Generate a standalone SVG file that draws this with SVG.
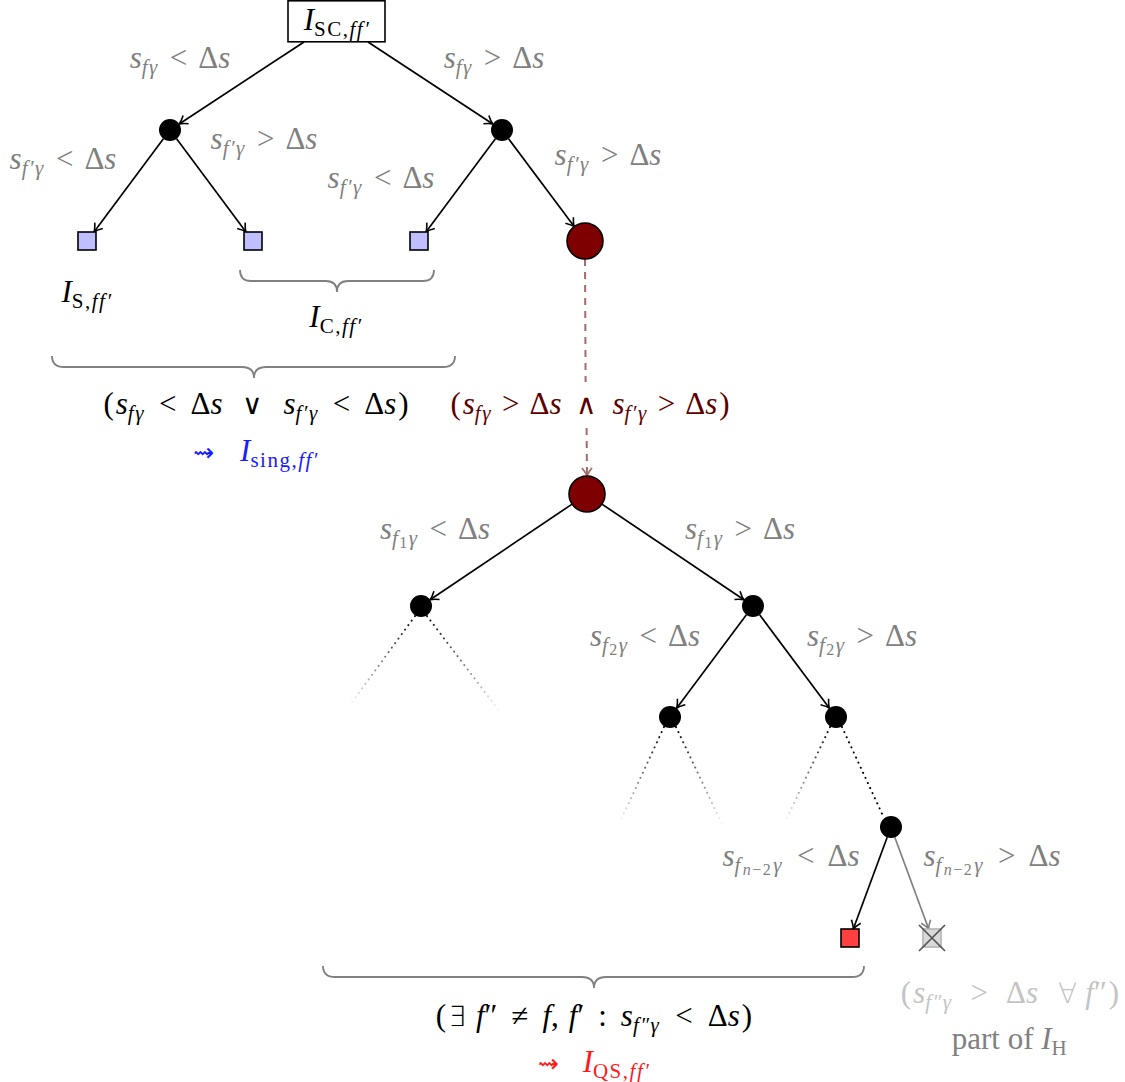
<svg xmlns="http://www.w3.org/2000/svg" width="1125" height="1082" viewBox="0 0 1125 1082">
<style>
.m{font-family:"Liberation Serif","DejaVu Serif",serif;font-size:31px;text-anchor:middle}
.i{font-style:italic}
.s{font-size:21px;letter-spacing:1.5px}
.ss{font-size:16px;letter-spacing:1.5px}
.sym{font-family:"DejaVu Sans",sans-serif;font-size:25px}
.op{font-family:"DejaVu Sans",sans-serif;font-size:28px;font-weight:200}
.g{fill:#808080}
.lg{fill:#c4c4c4}
.k{fill:#000}
.dr{fill:#5c0000}
.bl{fill:#1a1aff}
.rd{fill:#ff1a1a}
.e{stroke:#000;stroke-width:1.7;fill:none;marker-end:url(#ak)}
.eg{stroke:#808080;stroke-width:1.7;fill:none;marker-end:url(#ag)}
.dash{stroke:#a56a6a;stroke-width:2;fill:none;stroke-dasharray:7 6}
.dot{stroke:url(#fade);stroke-width:2;fill:none;stroke-dasharray:0.1 5.5;stroke-linecap:round}
.dots{stroke:#000;stroke-width:2;fill:none;stroke-dasharray:0.1 5.5;stroke-linecap:round}
.brace{stroke:#808080;stroke-width:1.8;fill:none}
.dot-node{fill:#000}
.sq{fill:#bfbfff;stroke:#000;stroke-width:1.6}
.big{fill:#7f0000;stroke:#000;stroke-width:1.6}
</style>
<defs>
<marker id="ak" viewBox="-10 -6 12 12" refX="0" refY="0" markerWidth="12" markerHeight="12" markerUnits="userSpaceOnUse" orient="auto">
<path d="M-8,-5 Q-3,-1 0,0 Q-3,1 -8,5" stroke="#000" stroke-width="1.6" fill="none"/>
</marker>
<marker id="ag" viewBox="-10 -6 12 12" refX="0" refY="0" markerWidth="12" markerHeight="12" markerUnits="userSpaceOnUse" orient="auto">
<path d="M-8,-5 Q-3,-1 0,0 Q-3,1 -8,5" stroke="#808080" stroke-width="1.6" fill="none"/>
</marker>
<marker id="ad" viewBox="-10 -6 12 12" refX="0" refY="0" markerWidth="12" markerHeight="12" markerUnits="userSpaceOnUse" orient="auto">
<path d="M-8,-5 Q-3,-1 0,0 Q-3,1 -8,5" stroke="#a56a6a" stroke-width="1.8" fill="none"/>
</marker>
<linearGradient id="fade" x1="0" y1="0" x2="0" y2="1">
<stop offset="0" stop-color="#000" stop-opacity="1"/>
<stop offset="1" stop-color="#000" stop-opacity="0.03"/>
</linearGradient>
</defs>
<rect width="1125" height="1082" fill="#fff"/>

<g id="connectors">
<line class="e" x1="304" y1="42" x2="179.2" y2="124"/>
<line class="e" x1="368" y1="42" x2="492.8" y2="124"/>
<line class="e" x1="163.4" y1="138.8" x2="94" y2="232"/>
<line class="e" x1="176.6" y1="138.8" x2="246" y2="232"/>
<line class="e" x1="495.4" y1="138.8" x2="426" y2="232"/>
<line class="e" x1="508.6" y1="138.8" x2="574.2" y2="226.6"/>
<line class="dash" x1="585" y1="259" x2="585.6" y2="382"/>
<line class="dash" x1="586.6" y1="428" x2="587" y2="476" style="marker-end:url(#ad)"/>
<line class="e" x1="572.1" y1="504.1" x2="430.1" y2="599.8"/>
<line class="e" x1="601.9" y1="504.1" x2="743.9" y2="599.8"/>
<line class="e" x1="746.4" y1="614.8" x2="676.6" y2="708.2"/>
<line class="e" x1="759.6" y1="614.8" x2="829.4" y2="708.2"/>
<line class="dot" x1="415" y1="616" x2="350" y2="705"/>
<line class="dot" x1="427" y1="616" x2="500" y2="712"/>
<line class="dot" x1="664" y1="727" x2="620" y2="822"/>
<line class="dot" x1="676" y1="727" x2="722" y2="824"/>
<line class="dot" x1="830" y1="727" x2="785" y2="822"/>
<line class="dots" x1="842" y1="727" x2="884" y2="818"/>
<line class="e" x1="887.2" y1="837.3" x2="853.3" y2="929"/>
<line class="eg" x1="894.8" y1="837.3" x2="928.7" y2="929"/>
</g>

<g id="root">
<rect x="288" y="0.8" width="97" height="41" fill="#fff" stroke="#000" stroke-width="1.6"/>
<text class="m k" x="337" y="30"><tspan class="i">I</tspan><tspan class="s" dy="6">SC,</tspan><tspan class="s i">ff′</tspan></text>
</g>
<g id="n-l1"><circle class="dot-node" cx="170" cy="130" r="11"/></g>
<g id="n-r1"><circle class="dot-node" cx="502" cy="130" r="11"/></g>
<g id="n-s1"><rect class="sq" x="78" y="232" width="18" height="18"/></g>
<g id="n-s2"><rect class="sq" x="244" y="232" width="18" height="18"/></g>
<g id="n-s3"><rect class="sq" x="410" y="232" width="18" height="18"/></g>
<g id="n-big1"><circle class="big" cx="585" cy="241" r="18"/></g>
<g id="n-big2"><circle class="big" cx="587" cy="494" r="18"/></g>
<g id="n-a"><circle class="dot-node" cx="421" cy="606" r="11"/></g>
<g id="n-b"><circle class="dot-node" cx="753" cy="606" r="11"/></g>
<g id="n-c"><circle class="dot-node" cx="670" cy="717" r="11"/></g>
<g id="n-d"><circle class="dot-node" cx="836" cy="717" r="11"/></g>
<g id="n-e"><circle class="dot-node" cx="891" cy="827" r="11"/></g>
<g id="n-red"><rect x="841" y="929" width="18" height="18" fill="#ff4040" stroke="#000" stroke-width="1.6"/></g>
<g id="n-cross">
<rect x="923" y="929" width="18" height="18" fill="#d9d9d9" stroke="#b3b3b3" stroke-width="1.6"/>
<path d="M919,925 L945,951 M945,925 L919,951" stroke="#555" stroke-width="1.7"/>
</g>

<g id="braces">
<path class="brace" d="M240,270 Q240,281 251,281 L326,281 Q337,281 337,292 Q337,281 348,281 L423,281 Q434,281 434,270"/>
<path class="brace" d="M52,356 Q52,367 64,367 L242,367 Q254,367 254,378 Q254,367 266,367 L443,367 Q455,367 455,356"/>
<path class="brace" d="M323,966 Q323,977 335,977 L582,977 Q594,977 594,988 Q594,977 606,977 L852,977 Q864,977 864,966"/>
</g>

<g id="labels">
<text class="m g" x="180" y="68"><tspan class="i">s</tspan><tspan class="i s" dy="6">fγ</tspan><tspan dy="-6" dx="11">&lt;</tspan><tspan dx="11">Δ</tspan><tspan class="i">s</tspan></text>
<text class="m g" x="494" y="68"><tspan class="i">s</tspan><tspan class="i s" dy="6">fγ</tspan><tspan dy="-6" dx="11">&gt;</tspan><tspan dx="11">Δ</tspan><tspan class="i">s</tspan></text>
<text class="m g" x="63" y="169"><tspan class="i">s</tspan><tspan class="i s" dy="6">f′γ</tspan><tspan dy="-6" dx="11">&lt;</tspan><tspan dx="11">Δ</tspan><tspan class="i">s</tspan></text>
<text class="m g" x="264" y="149"><tspan class="i">s</tspan><tspan class="i s" dy="6">f′γ</tspan><tspan dy="-6" dx="11">&gt;</tspan><tspan dx="11">Δ</tspan><tspan class="i">s</tspan></text>
<text class="m g" x="381" y="188"><tspan class="i">s</tspan><tspan class="i s" dy="6">f′γ</tspan><tspan dy="-6" dx="11">&lt;</tspan><tspan dx="11">Δ</tspan><tspan class="i">s</tspan></text>
<text class="m g" x="608" y="165"><tspan class="i">s</tspan><tspan class="i s" dy="6">f′γ</tspan><tspan dy="-6" dx="11">&gt;</tspan><tspan dx="11">Δ</tspan><tspan class="i">s</tspan></text>

<text class="m k" x="87" y="302"><tspan class="i">I</tspan><tspan class="s" dy="6">S,</tspan><tspan class="s i">ff′</tspan></text>
<text class="m k" x="336" y="327"><tspan class="i">I</tspan><tspan class="s" dy="6">C,</tspan><tspan class="s i">ff′</tspan></text>

<text class="m k" x="256" y="414">(<tspan class="i" dx="2">s</tspan><tspan class="i s" dy="6">fγ</tspan><tspan dy="-6" dx="14">&lt;</tspan><tspan dx="14">Δ</tspan><tspan class="i">s</tspan><tspan class="op" dx="20">∨</tspan><tspan class="i" dx="20">s</tspan><tspan class="i s" dy="6">f′γ</tspan><tspan dy="-6" dx="14">&lt;</tspan><tspan dx="14">Δ</tspan><tspan class="i">s</tspan><tspan dx="2">)</tspan></text>
<text class="m bl" x="256" y="461"><tspan class="sym">⇝</tspan><tspan class="i" dx="26">I</tspan><tspan class="s" dy="6">sing,</tspan><tspan class="s i">ff′</tspan></text>
<text class="m dr" x="590" y="414">(<tspan class="i" dx="2">s</tspan><tspan class="i s" dy="6">fγ</tspan><tspan dy="-6" dx="10">&gt;</tspan><tspan dx="10">Δ</tspan><tspan class="i">s</tspan><tspan class="op" dx="15">∧</tspan><tspan class="i" dx="15">s</tspan><tspan class="i s" dy="6">f′γ</tspan><tspan dy="-6" dx="10">&gt;</tspan><tspan dx="10">Δ</tspan><tspan class="i">s</tspan><tspan dx="2">)</tspan></text>

<text class="m g" x="435" y="539"><tspan class="i">s</tspan><tspan class="i s" dy="6">f</tspan><tspan class="ss" dy="3">1</tspan><tspan class="i s" dy="-3">γ</tspan><tspan dy="-6" dx="11">&lt;</tspan><tspan dx="11">Δ</tspan><tspan class="i">s</tspan></text>
<text class="m g" x="740" y="539"><tspan class="i">s</tspan><tspan class="i s" dy="6">f</tspan><tspan class="ss" dy="3">1</tspan><tspan class="i s" dy="-3">γ</tspan><tspan dy="-6" dx="11">&gt;</tspan><tspan dx="11">Δ</tspan><tspan class="i">s</tspan></text>
<text class="m g" x="645" y="646"><tspan class="i">s</tspan><tspan class="i s" dy="6">f</tspan><tspan class="ss" dy="3">2</tspan><tspan class="i s" dy="-3">γ</tspan><tspan dy="-6" dx="11">&lt;</tspan><tspan dx="11">Δ</tspan><tspan class="i">s</tspan></text>
<text class="m g" x="862" y="646"><tspan class="i">s</tspan><tspan class="i s" dy="6">f</tspan><tspan class="ss" dy="3">2</tspan><tspan class="i s" dy="-3">γ</tspan><tspan dy="-6" dx="11">&gt;</tspan><tspan dx="11">Δ</tspan><tspan class="i">s</tspan></text>
<text class="m g" x="791" y="866"><tspan class="i">s</tspan><tspan class="i s" dy="6">f</tspan><tspan class="ss" dy="3" dx="1"><tspan class="i">n</tspan>−2</tspan><tspan class="i s" dy="-3" dx="1">γ</tspan><tspan dy="-6" dx="14">&lt;</tspan><tspan dx="13">Δ</tspan><tspan class="i">s</tspan></text>
<text class="m g" x="992" y="866"><tspan class="i">s</tspan><tspan class="i s" dy="6">f</tspan><tspan class="ss" dy="3" dx="1"><tspan class="i">n</tspan>−2</tspan><tspan class="i s" dy="-3" dx="1">γ</tspan><tspan dy="-6" dx="14">&gt;</tspan><tspan dx="13">Δ</tspan><tspan class="i">s</tspan></text>

<text class="m k" x="594" y="1026">(<tspan class="op" dx="2">∃</tspan><tspan class="i" dx="10">f</tspan>″<tspan dx="14">≠</tspan><tspan class="i" dx="14">f</tspan>,<tspan class="i" dx="10">f</tspan>′<tspan dx="14">:</tspan><tspan class="i" dx="14">s</tspan><tspan class="i s" dy="6">f″γ</tspan><tspan dy="-6" dx="15">&lt;</tspan><tspan dx="15">Δ</tspan><tspan class="i">s</tspan><tspan dx="2">)</tspan></text>
<text class="m rd" x="594" y="1072"><tspan class="sym">⇝</tspan><tspan class="i" dx="24">I</tspan><tspan class="s" dy="6">QS,</tspan><tspan class="s i">ff′</tspan></text>
<text class="m lg" x="1010" y="1003">(<tspan class="i" dx="2">s</tspan><tspan class="i s" dy="6">f″γ</tspan><tspan dy="-6" dx="18">&gt;</tspan><tspan dx="18">Δ</tspan><tspan class="i">s</tspan><tspan class="op" dx="20">∀</tspan><tspan class="i" dx="8">f</tspan>″<tspan dx="2">)</tspan></text>
<text class="m g" x="1010" y="1049">part of <tspan class="i">I</tspan><tspan class="s" dy="6">H</tspan></text>
</g>
</svg>
